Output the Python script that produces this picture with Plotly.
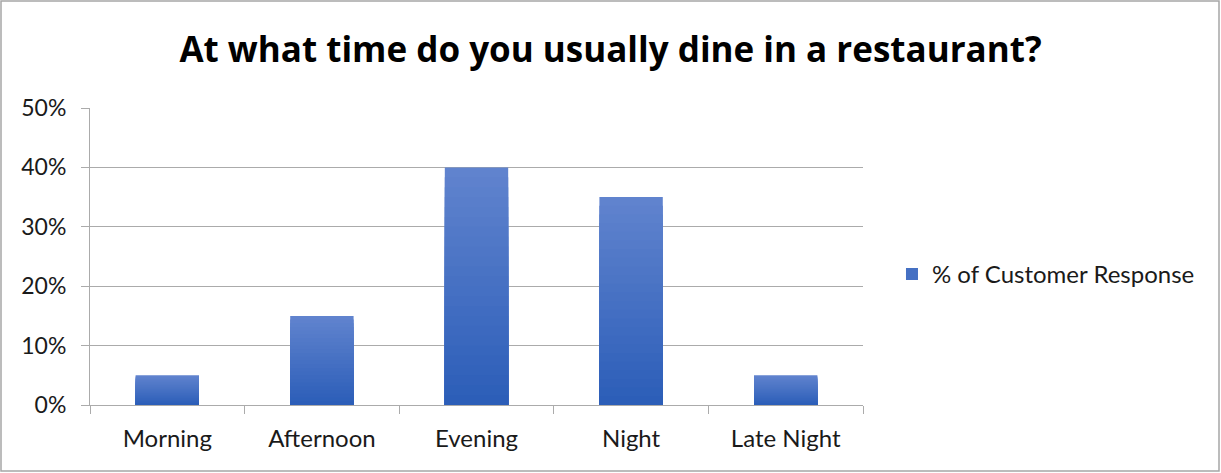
import plotly.graph_objects as go

# Survey data
categories = ["Morning", "Afternoon", "Evening", "Night", "Late Night"]
response_share = [0.05, 0.15, 0.40, 0.35, 0.05]
series_name = "% of Customer Response"
y_ticks = [0, 0.1, 0.2, 0.3, 0.4, 0.5]
y_tick_labels = ["0%", "10%", "20%", "30%", "40%", "50%"]

FONT = "Lato, 'Open Sans', sans-serif"
GRID = "#ABABAB"
TEXT = "#1A1A1A"

# Vertical gradient per bar: overlay progressively shorter bars, light on top, dark below
top_rgb = (96, 131, 206)
bottom_rgb = (44, 94, 184)
steps = 24

fig = go.Figure()
for k in range(steps):
    frac = 1 - k / steps
    t = k / (steps - 1)
    r = round(top_rgb[0] + (bottom_rgb[0] - top_rgb[0]) * t)
    g = round(top_rgb[1] + (bottom_rgb[1] - top_rgb[1]) * t)
    b = round(top_rgb[2] + (bottom_rgb[2] - top_rgb[2]) * t)
    fig.add_trace(go.Bar(
        x=categories,
        y=[v * frac for v in response_share],
        name=series_name,
        marker=dict(color=f"rgb({r},{g},{b})", line=dict(width=0)),
        showlegend=(k == steps // 2),
        hoverinfo="skip" if k else None,
    ))

fig.update_layout(
    width=1221,
    height=473,
    margin=dict(l=90, r=358, t=108, b=68),
    paper_bgcolor="white",
    plot_bgcolor="white",
    barmode="overlay",
    bargap=0.59,
    font=dict(family=FONT, size=24, color=TEXT),
    title=dict(
        text="<b>At what time do you usually dine in a restaurant?</b>",
        x=0.5,
        xanchor="center",
        y=0.895,
        yanchor="middle",
        font=dict(family="'Open Sans', Lato, sans-serif", size=35, color="#000000"),
    ),
    legend=dict(
        x=1.0375,
        xanchor="left",
        y=0.44,
        yanchor="middle",
        font=dict(family=FONT, size=24, color=TEXT),
        itemwidth=30,
        bgcolor="rgba(0,0,0,0)",
    ),
    xaxis=dict(
        type="category",
        showgrid=False,
        showline=True,
        linecolor=GRID,
        linewidth=1,
        ticks="outside",
        tickson="boundaries",
        ticklen=8,
        tickcolor=GRID,
        ticklabelstandoff=12,
        tickfont=dict(family=FONT, size=24, color=TEXT),
    ),
    yaxis=dict(
        range=[0, 0.5],
        tickvals=y_ticks,
        ticktext=y_tick_labels,
        showgrid=True,
        gridcolor=GRID,
        gridwidth=1,
        showline=True,
        linecolor=GRID,
        linewidth=1,
        ticks="outside",
        ticklen=8,
        tickcolor=GRID,
        ticklabelstandoff=10,
        zeroline=False,
        tickfont=dict(family=FONT, size=23, color=TEXT),
    ),
)

# Chart-area frame
fig.add_shape(
    type="rect",
    xref="paper", yref="paper",
    x0=-89 / 773, x1=1129 / 773,
    y0=-66 / 297, y1=404 / 297,
    line=dict(color="#A6A6A6", width=1.5),
    fillcolor="rgba(0,0,0,0)",
    layer="below",
)

fig.write_html("out.html")
